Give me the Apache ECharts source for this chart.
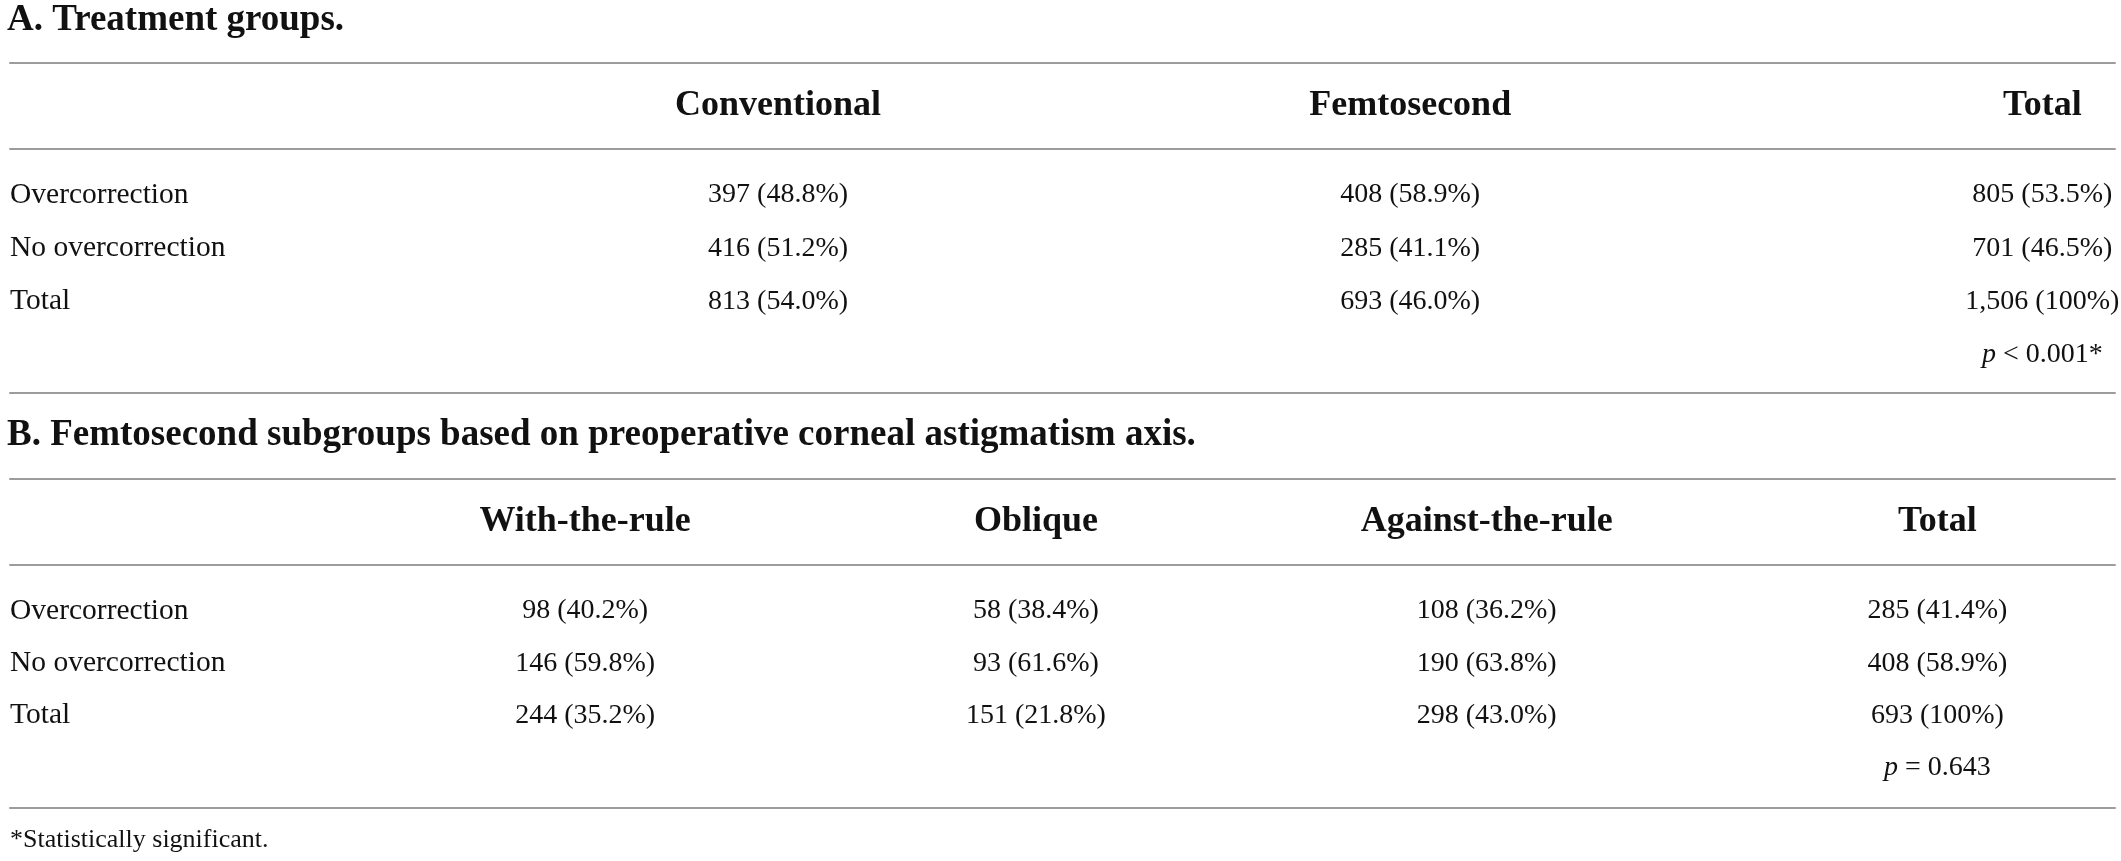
<!DOCTYPE html>
<html>
<head>
<meta charset="utf-8">
<script src="https://cdn.jsdelivr.net/npm/echarts@6/dist/echarts.min.js"></script>
<style>
  html, body { margin: 0; padding: 0; background: #fff; }
  #main { width: 2121px; height: 861px; }
</style>
</head>
<body>
<div id="main"></div>
<script>
// A. 治疗分组
const colsA = ['Conventional', 'Femtosecond', 'Total'];
const rowsA = ['Overcorrection', 'No overcorrection', 'Total'];
const countsA = [[397, 408, 805], [416, 285, 701], [813, 693, 1506]];
const pctA = [[48.8, 58.9, 53.5], [51.2, 41.1, 46.5], [54.0, 46.0, 100]];
const pA = '< 0.001*';

// B. 飞秒亚组
const colsB = ['With-the-rule', 'Oblique', 'Against-the-rule', 'Total'];
const rowsB = ['Overcorrection', 'No overcorrection', 'Total'];
const countsB = [[98, 58, 108, 285], [146, 93, 190, 408], [244, 151, 298, 693]];
const pctB = [[40.2, 38.4, 36.2, 41.4], [59.8, 61.6, 63.8, 58.9], [35.2, 21.8, 43.0, 100]];
const pB = '= 0.643';

const titleA = 'A. Treatment groups.';
const titleB = 'B. Femtosecond subgroups based on preoperative corneal astigmatism axis.';
const footnote = '*Statistically significant.';

const SERIF = '"Liberation Serif", "DejaVu Serif", serif';
const INK = '#111111';
const RULE = '#9c9c9c';

const chart = echarts.init(document.getElementById('main'));

const fmtCell = (n, p) => n.toLocaleString('en-US') + ' (' + (p === 100 ? '100' : p.toFixed(1)) + '%)';

// 横线
const ruleAxis = (grid, position, offset, min, max) => ({
  type: 'value', gridIndex: grid, position: position, offset: offset || 0,
  min: min, max: max,
  axisLine: { show: true, onZero: false, lineStyle: { color: RULE, width: 2 } },
  axisTick: { show: false }, axisLabel: { show: false }, splitLine: { show: false }
});

const hiddenY = (grid) => ({
  type: 'category', gridIndex: grid, data: ['h'], show: false
});

const rowY = (grid, rows) => ({
  type: 'category', gridIndex: grid, inverse: true,
  data: rows.concat(['']),
  axisLine: { show: false }, axisTick: { show: false }, splitLine: { show: false },
  axisLabel: {
    interval: 0, align: 'left', margin: 0,
    fontFamily: SERIF, fontSize: 29.5, color: INK
  }
});

const textSeries = (x, y, data, bold) => ({
  type: 'scatter', xAxisIndex: x, yAxisIndex: y, silent: true,
  symbolSize: 0, itemStyle: { color: 'transparent', opacity: 1 },
  data: data,
  label: {
    show: true, position: 'inside', opacity: 1,
    formatter: (d) => d.name,
    fontFamily: SERIF, color: INK,
    fontSize: bold ? 36 : 28, fontWeight: bold ? 'bold' : 'normal',
    rich: { i: { fontFamily: SERIF, fontSize: 28, fontStyle: 'italic', color: INK } }
  }
});

const headData = (cols) => cols.map((c, i) => ({ name: c, value: [i, 0] }));
const bodyData = (cols, counts, pct, p) => {
  const out = [];
  counts.forEach((row, r) => row.forEach((n, c) => {
    out.push({ name: fmtCell(n, pct[r][c]), value: [c, r] });
  }));
  out.push({ name: '{i|p} ' + p, value: [cols.length - 1, counts.length] });
  return out;
};

// 列位置范围
const xA = [-1.215, 2.115];
const xB = [-1.276, 3.394];

chart.setOption({
  backgroundColor: '#fff',
  animation: false,
  grid: [
    { left: 10, right: 6, top: 63, height: 86, outerBoundsMode: 'none' },
    { left: 10, right: 6, top: 168.3, height: 213.4, outerBoundsMode: 'none' },
    { left: 10, right: 6, top: 479, height: 86, outerBoundsMode: 'none' },
    { left: 10, right: 6, top: 584.8, height: 209.4, outerBoundsMode: 'none' }
  ],
  xAxis: [
    ruleAxis(0, 'top', 0, xA[0], xA[1]),
    ruleAxis(0, 'bottom', 0, xA[0], xA[1]),
    ruleAxis(1, 'bottom', 11.3, xA[0], xA[1]),
    ruleAxis(2, 'top', 0, xB[0], xB[1]),
    ruleAxis(2, 'bottom', 0, xB[0], xB[1]),
    ruleAxis(3, 'bottom', 13.8, xB[0], xB[1])
  ],
  yAxis: [hiddenY(0), rowY(1, rowsA), hiddenY(2), rowY(3, rowsB)],
  series: [
    textSeries(0, 0, headData(colsA), true),
    textSeries(2, 1, bodyData(colsA, countsA, pctA, pA), false),
    textSeries(3, 2, headData(colsB), true),
    textSeries(5, 3, bodyData(colsB, countsB, pctB, pB), false)
  ],
  graphic: [
    { type: 'text', x: 7, y: 20, silent: true,
      style: { text: titleA, fill: INK, font: 'bold 37px ' + SERIF, textVerticalAlign: 'middle' } },
    { type: 'text', x: 7, y: 435, silent: true,
      style: { text: titleB, fill: INK, font: 'bold 37px ' + SERIF, textVerticalAlign: 'middle' } },
    { type: 'text', x: 10, y: 840, silent: true,
      style: { text: footnote, fill: INK, font: '26px ' + SERIF, textVerticalAlign: 'middle' } }
  ]
});
</script>
</body>
</html>
